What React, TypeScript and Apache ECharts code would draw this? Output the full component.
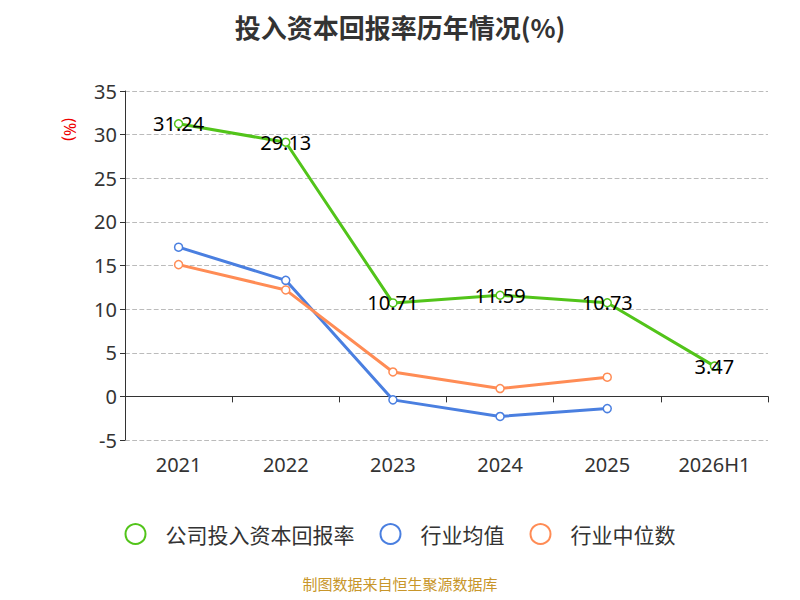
import React, { useEffect, useRef } from "react";
import * as echarts from "echarts";

const categories = ["2021", "2022", "2023", "2024", "2025", "2026H1"];
const company = [31.24, 29.13, 10.71, 11.59, 10.73, 3.47];
const industryAvg = [17.1, 13.3, -0.4, -2.3, -1.4, null];
const industryMedian = [15.1, 12.2, 2.8, 0.9, 2.2, null];

export default function App() {
  const ref = useRef<HTMLDivElement>(null);
  useEffect(() => {
    const chart = echarts.init(ref.current!, null, { renderer: "svg" });
    const font = "'Noto Sans', 'Noto Sans CJK SC', sans-serif";
    const mk = (name: string, data: any[], color: string, label: boolean) => ({
      name, type: "line", data, xAxisIndex: 0, color,
      symbol: "circle", symbolSize: 8, showSymbol: true,
      lineStyle: { width: 3, color },
      itemStyle: { color: "#fff", borderColor: color, borderWidth: 1.5 },
      label: label ? { show: true, position: "inside", fontSize: 20, color: "#000", fontFamily: font } : { show: false },
    });
    const legItem = (name: string, color: string) => ({
      name, icon: "circle",
      itemStyle: { color: "#fff", borderColor: color, borderWidth: 2 },
      lineStyle: { color, width: 2 },
    });
    chart.setOption({
      animation: false,
      textStyle: { fontFamily: font },
      title: { text: "投入资本回报率历年情况(%)", left: "center", top: 0, textStyle: { fontSize: 26, fontWeight: "bold", color: "#333", fontFamily: "'Noto Sans CJK SC', sans-serif" } },
      grid: { left: 117, right: 24, top: 83, bottom: 152 },
      legend: {
        bottom: 42, itemWidth: 50, itemHeight: 20, itemGap: 25,
        textStyle: { fontSize: 21, color: "#333", fontFamily: "'Noto Sans CJK SC', sans-serif" },
        data: [
          legItem("公司投入资本回报率", "#52c41a"),
          legItem("行业均值", "#4a7fe0"),
          legItem("行业中位数", "#ff8c55"),
        ],
      },
      xAxis: [
        { type: "category", data: categories, position: "bottom", axisLine: { show: false, onZero: false }, axisTick: { show: false },
          axisLabel: { fontSize: 20, color: "#333", margin: 14 } },
        { type: "category", data: categories, position: "bottom", axisLine: { show: true, onZero: true, lineStyle: { color: "#333" } },
          axisTick: { show: true, length: 6 }, axisLabel: { show: false } },
      ],
      yAxis: {
        type: "value", min: -5, max: 35, interval: 5,
        axisLine: { show: true, lineStyle: { color: "#333" } }, axisTick: { show: true },
        axisLabel: { fontSize: 20, color: "#333" },
        splitLine: { lineStyle: { type: "dashed", color: "#bbb", width: 1.2 } },
      },
      graphic: [
        { type: "text", x: 70, y: 110, rotation: -Math.PI / 2, style: { text: "(%)", fill: "#e00", fontSize: 16, fontFamily: font } },
        { type: "text", left: "center", top: 568, style: { text: "制图数据来自恒生聚源数据库", fill: "#c8962a", fontSize: 15, fontFamily: "'Noto Sans CJK SC', sans-serif" } },
      ],
      series: [
        mk("公司投入资本回报率", company, "#52c41a", true),
        mk("行业均值", industryAvg, "#4a7fe0", false),
        mk("行业中位数", industryMedian, "#ff8c55", false),
      ],
    });
    return () => chart.dispose();
  }, []);
  return <div ref={ref} style={{ width: 784, height: 584 }} />;
}
